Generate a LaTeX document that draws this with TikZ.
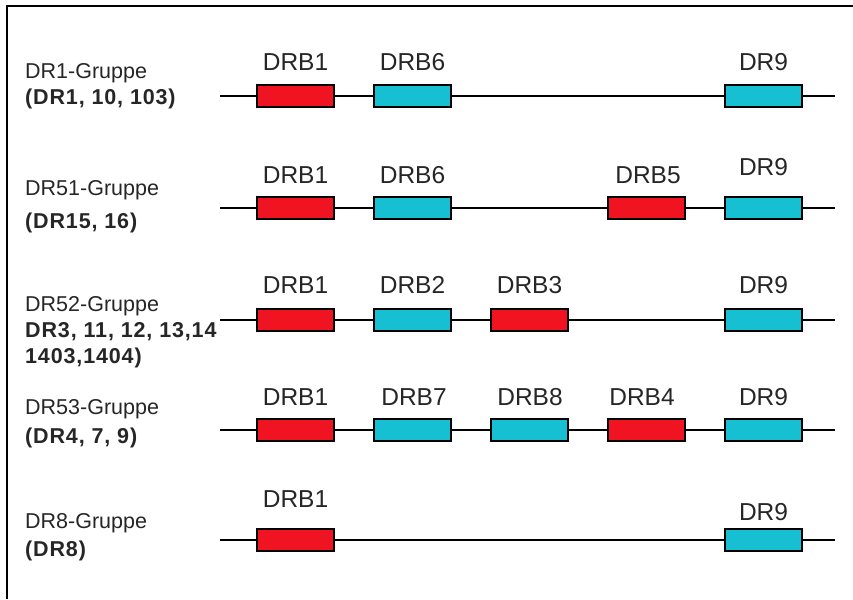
\documentclass[tikz,border=0pt]{standalone}
\usepackage{fontspec}
\setmainfont{Liberation Sans}
\newfontfamily\spacedbold[LetterSpace=4,BoldFont={Liberation Sans Bold}]{Liberation Sans}
\definecolor{genred}{RGB}{240,20,35}
\definecolor{gencyan}{RGB}{22,192,210}
\begin{document}
\begin{tikzpicture}[x=1pt,y=-1pt,
  gene/.style={draw=black,line width=2.1pt,minimum width=77pt,minimum height=22pt,inner sep=0pt},
  redgene/.style={gene,fill=genred},
  cyangene/.style={gene,fill=gencyan},
  glabel/.style={anchor=base,inner sep=0pt,font=\fontsize{24.5}{28}\selectfont,text=black!85},
  grp/.style={anchor=base west,inner sep=0pt,font=\fontsize{21.5}{26}\selectfont,text=black!85},
  grpb/.style={anchor=base west,inner sep=0pt,font=\fontsize{21.5}{26}\selectfont\spacedbold\bfseries,text=black!85},
  thinline/.style={line width=1.3pt},
  thickline/.style={line width=2.4pt}]
\useasboundingbox (0,0) rectangle (853,599);
\draw[line width=1.8pt] (7,599) -- (7,6) -- (853,6);

% Row 1
\coordinate (s1) at (220,96); \coordinate (e1) at (835,96);
\draw[thinline] (s1) -- (e1);
\node[redgene] (a1) at (295.5,96) {};
\node[cyangene] (a2) at (412.5,96) {};
\node[cyangene] (a9) at (763.5,96) {};
\node[glabel] (la1) at (295.5,71) {DRB1};
\node[glabel] (la2) at (412.5,71) {DRB6};
\node[glabel] (la9) at (763.5,71) {DR9};
\node[grp] (g1) at (25,79) {DR1-Gruppe};
\node[grpb] (h1) at (25,105) {(DR1, 10, 103)};

% Row 2
\coordinate (s2) at (220,208); \coordinate (e2) at (835,208);
\draw[thinline] (s2) -- (e2);
\node[redgene] (b1) at (295.5,208) {};
\node[cyangene] (b2) at (412.5,208) {};
\node[redgene] (b5) at (646.5,208) {};
\node[cyangene] (b9) at (763.5,208) {};
\node[glabel] (lb1) at (295.5,183) {DRB1};
\node[glabel] (lb2) at (412.5,183) {DRB6};
\node[glabel] (lb5) at (648,183) {DRB5};
\node[glabel] (lb9) at (763.5,175) {DR9};
\node[grp] (g2) at (25,195) {DR51-Gruppe};
\node[grpb] (h2) at (25,228) {(DR15, 16)};

% Row 3
\coordinate (s3) at (220,320); \coordinate (e3) at (835,320);
\draw[thinline] (s3) -- (e3);
\node[redgene] (c1) at (295.5,320) {};
\node[cyangene] (c2) at (412.5,320) {};
\node[redgene] (c3) at (529.5,320) {};
\node[cyangene] (c9) at (763.5,320) {};
\node[glabel] (lc1) at (295.5,293) {DRB1};
\node[glabel] (lc2) at (412.5,293) {DRB2};
\node[glabel] (lc3) at (529.5,293) {DRB3};
\node[glabel] (lc9) at (763.5,293) {DR9};
\node[grp] (g3) at (25,311) {DR52-Gruppe};
\node[grpb] (h3) at (25,337) {DR3, 11, 12, 13,14};
\node[grpb] (k3) at (25,363) {1403,1404)};

% Row 4
\coordinate (s4) at (220,430); \coordinate (e4) at (835,430);
\draw[thickline] (s4) -- (e4);
\node[redgene] (d1) at (295.5,430) {};
\node[cyangene] (d7) at (412.5,430) {};
\node[cyangene] (d8) at (529.5,430) {};
\node[redgene] (d4) at (646.5,430) {};
\node[cyangene] (d9) at (763.5,430) {};
\node[glabel] (ld1) at (295.5,405) {DRB1};
\node[glabel] (ld7) at (414,405) {DRB7};
\node[glabel] (ld8) at (530,405) {DRB8};
\node[glabel] (ld4) at (642,405) {DRB4};
\node[glabel] (ld9) at (763.5,405) {DR9};
\node[grp] (g4) at (25,414) {DR53-Gruppe};
\node[grpb] (h4) at (25,443) {(DR4, 7, 9)};

% Row 5
\coordinate (s5) at (220,540); \coordinate (e5) at (835,540);
\draw[thickline] (s5) -- (e5);
\node[redgene] (f1) at (295.5,540) {};
\node[cyangene] (f9) at (763.5,540) {};
\node[glabel] (lf1) at (295.5,507) {DRB1};
\node[glabel] (lf9) at (763.5,520) {DR9};
\node[grp] (g5) at (25,528) {DR8-Gruppe};
\node[grpb] (h5) at (25,556) {(DR8)};
\end{tikzpicture}
\end{document}
